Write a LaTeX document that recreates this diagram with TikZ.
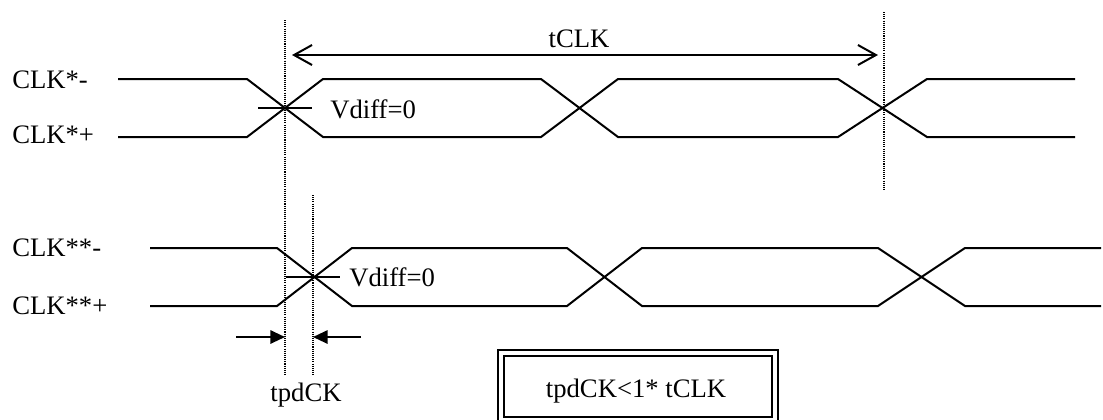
\documentclass[tikz,border=0pt]{standalone}
\usepackage{fontspec}
\setmainfont{Liberation Serif}
\usetikzlibrary{arrows.meta}

\begin{document}
\begin{tikzpicture}[x=0.75pt, y=-0.75pt,
    wave/.style={line width=1.5pt},
    guide/.style={line width=0.9pt, dash pattern=on 0.8pt off 0.8pt},
    span/.style={line width=1.5pt,
      {Straight Barb[length=13.5pt, width=15pt]}-{Straight Barb[length=13.5pt, width=15pt]}},
    push/.style={line width=1.5pt, -{Triangle[length=11pt, width=10pt]}},
    lbl/.style={inner sep=0pt, font=\fontsize{20}{24}\selectfont}]
    \useasboundingbox (0,0) rectangle (1103,419);

    % signal names
    \node[lbl, anchor=west] (clkAn) at (12,80) {CLK*-};
    \node[lbl, anchor=west] (clkAp) at (12,135) {CLK*+};
    \node[lbl, anchor=west] (clkBn) at (12,248) {CLK**-};
    \node[lbl, anchor=west] (clkBp) at (12,306) {CLK**+};

    % first pair
    \draw[wave] (118,79) -- (247,79) -- (323,137) -- (541,137) -- (618,79)
      -- (838,79) -- (927,137) -- (1075,137);
    \draw[wave] (118,137) -- (247,137) -- (323,79) -- (541,79) -- (618,137)
      -- (838,137) -- (927,79) -- (1075,79);
    \draw[wave] (258,108) -- (312,108);
    \node[lbl, anchor=west] (vdiffA) at (330,109) {Vdiff=0};

    % second pair
    \draw[wave] (150,248) -- (277,248) -- (352,306) -- (567,306) -- (642,248)
      -- (878,248) -- (965,306) -- (1101,306);
    \draw[wave] (150,306) -- (277,306) -- (352,248) -- (567,248) -- (642,306)
      -- (878,306) -- (965,248) -- (1101,248);
    \draw[wave] (286,277) -- (340,277);
    \node[lbl, anchor=west] (vdiffB) at (349,277) {Vdiff=0};

    % guide lines
    \coordinate (gAtop) at (285,20);
    \coordinate (gAbot) at (285,375);
    \coordinate (gBtop) at (313,195);
    \coordinate (gBbot) at (313,375);
    \coordinate (gCtop) at (884,12);
    \coordinate (gCbot) at (884,191);
    \draw[guide] (gAtop) -- (gAbot);
    \draw[guide] (gBtop) -- (gBbot);
    \draw[guide] (gCtop) -- (gCbot);

    % period
    \coordinate (spanL) at (292,55);
    \coordinate (spanR) at (878,55);
    \draw[span] (spanL) -- (spanR);
    \node[lbl] (tclk) at (579,39) {tCLK};

    % skew
    \coordinate (pushL) at (236,337);
    \coordinate (pushR) at (361,337);
    \draw[push] (pushL) -- (gAtop |- pushL);
    \draw[push] (pushR) -- (gBtop |- pushR);
    \node[lbl] (tpd) at (306,395) {tpdCK};

    % condition
    \node[lbl] (cond) at (636,391) {tpdCK<1* tCLK};
    \draw[line width=1.5pt] (498,350) rectangle (778,426);
    \draw[line width=2pt] (504,356) rectangle (772,417);
  \end{tikzpicture}
\end{document}
